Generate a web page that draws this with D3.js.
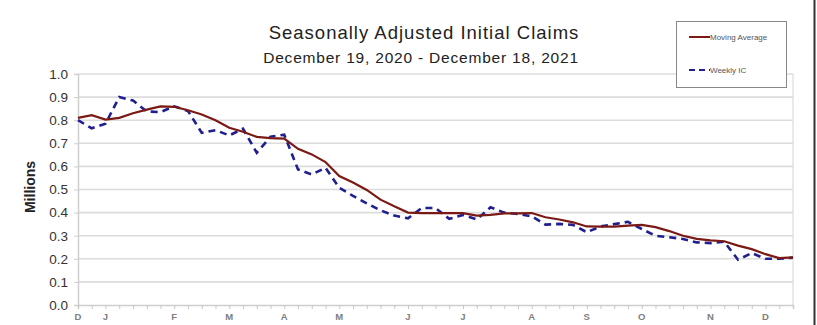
<!DOCTYPE html>
<html>
<head>
<meta charset="utf-8">
<script src="https://cdn.jsdelivr.net/npm/d3@7"></script>
<style>
  html, body { margin: 0; padding: 0; background: #fff; }
  svg { display: block; }
</style>
</head>
<body>
<svg id="chart" width="817" height="325"></svg>
<script>
// ---- data ----
const weekIndex = d3.range(53); // weekly points, Dec 19 2020 .. Dec 18 2021
const weeklyIC = [0.80, 0.765, 0.785, 0.90, 0.885, 0.838, 0.835, 0.86, 0.84, 0.745,
  0.757, 0.734, 0.763, 0.659, 0.728, 0.737, 0.587, 0.565, 0.594, 0.508,
  0.472, 0.44, 0.41, 0.387, 0.375, 0.42, 0.42, 0.373, 0.39, 0.37,
  0.423, 0.40, 0.394, 0.384, 0.348, 0.351, 0.347, 0.315, 0.34, 0.35,
  0.36, 0.329, 0.30, 0.293, 0.286, 0.271, 0.268, 0.274, 0.196, 0.225,
  0.20, 0.20, 0.205];
const movingAvg = [0.81, 0.822, 0.803, 0.81, 0.83, 0.846, 0.86, 0.858, 0.843, 0.825,
  0.80, 0.767, 0.75, 0.728, 0.722, 0.72, 0.676, 0.652, 0.619, 0.558,
  0.53, 0.498, 0.456, 0.427, 0.40, 0.398, 0.398, 0.398, 0.398, 0.387,
  0.39, 0.397, 0.397, 0.398, 0.38, 0.37, 0.358, 0.34, 0.339, 0.339,
  0.344, 0.347, 0.337, 0.32, 0.30, 0.286, 0.28, 0.276, 0.257, 0.242,
  0.22, 0.203, 0.206];
const monthLabels = ["D", "J", "F", "M", "A", "M", "J", "J", "A", "S", "O", "N", "D"];
const monthWeek = [0, 2, 7, 11, 15, 19, 24, 28, 33, 37, 41, 46, 50];
const yTicks = [0, 0.1, 0.2, 0.3, 0.4, 0.5, 0.6, 0.7, 0.8, 0.9, 1.0];
const titleText = "Seasonally Adjusted Initial Claims";
const subtitleText = "December 19, 2020 - December 18, 2021";
const yTitle = "Millions";
const legendNames = ["Moving Average", "Weekly IC"];

// ---- layout ----
const svg = d3.select("#chart");
const L = 78, R = 793, T = 74, B = 305;
const FONT = "Liberation Sans, Arial, sans-serif";

const x = d3.scaleLinear().domain([0, 52]).range([L, R]);
const y = d3.scaleLinear().domain([0, 1]).range([B, T]);

// outer right frame line
svg.append("line").attr("x1", 814.5).attr("x2", 814.5).attr("y1", 0).attr("y2", 325)
  .attr("stroke", "#333").attr("stroke-width", 2);

// gridlines
svg.append("g").selectAll("line").data(yTicks.filter(d => d > 0)).join("line")
  .attr("x1", L).attr("x2", R)
  .attr("y1", d => y(d)).attr("y2", d => y(d))
  .attr("stroke", "#dcdcdc").attr("stroke-width", 1.6);

// right border
svg.append("line").attr("x1", R).attr("x2", R).attr("y1", T).attr("y2", B)
  .attr("stroke", "#dcdcdc").attr("stroke-width", 1.2);

// y axis
const yAxis = d3.axisLeft(y).tickValues(yTicks).tickFormat(d3.format(".1f")).tickSize(4);
const gy = svg.append("g").attr("transform", `translate(${L},0)`).call(yAxis);
gy.select(".domain").attr("stroke", "#cfcfcf").attr("stroke-width", 1.5);
gy.selectAll(".tick line").attr("stroke", "#cfcfcf");
gy.selectAll("text").attr("font-family", FONT)
  .attr("font-size", 13.5).attr("fill", "#333").attr("x", -10);

// x axis
const xAxis = d3.axisBottom(x).tickValues(weekIndex).tickFormat("").tickSize(4);
const gx = svg.append("g").attr("transform", `translate(0,${B})`).call(xAxis);
gx.select(".domain").attr("stroke", "#cfcfcf").attr("stroke-width", 1.5);
gx.selectAll(".tick line").attr("stroke", "#c8c8c8");

svg.append("g").selectAll("text").data(monthWeek).join("text")
  .attr("x", d => x(d)).attr("y", 320)
  .attr("text-anchor", "middle")
  .attr("font-family", FONT)
  .attr("font-size", 9.5).attr("font-weight", "bold").attr("fill", "#808080")
  .text((d, i) => monthLabels[i]);

// lines
const line = d3.line().x((d, i) => x(weekIndex[i])).y(d => y(d));
svg.append("path").datum(weeklyIC).attr("d", line)
  .attr("fill", "none").attr("stroke", "#1f1f8f").attr("stroke-width", 2.6)
  .attr("stroke-dasharray", "7,5");
svg.append("path").datum(movingAvg).attr("d", line)
  .attr("fill", "none").attr("stroke", "#7b1a14").attr("stroke-width", 2.2);

// titles
svg.append("text").attr("x", 424).attr("y", 39).attr("text-anchor", "middle")
  .attr("font-family", FONT).attr("font-size", 18.5).attr("letter-spacing", 1)
  .attr("fill", "#222").text(titleText);
svg.append("text").attr("x", 421).attr("y", 63).attr("text-anchor", "middle")
  .attr("font-family", FONT).attr("font-size", 15.5).attr("letter-spacing", 0.8)
  .attr("fill", "#222").text(subtitleText);

// y title
svg.append("text").attr("transform", "translate(35,187) rotate(-90)")
  .attr("text-anchor", "middle")
  .attr("font-family", FONT).attr("font-size", 14)
  .attr("font-weight", "bold").attr("fill", "#222").text(yTitle);

// legend
const lg = svg.append("g");
lg.append("rect").attr("x", 676.5).attr("y", 21.5).attr("width", 110).attr("height", 66)
  .attr("fill", "#fff").attr("stroke", "#888").attr("stroke-width", 1);
const legendStyles = [
  { stroke: "#7b1a14", dash: null, w: 2 },
  { stroke: "#1f1f8f", dash: "6,4", w: 2 }
];
legendNames.forEach((name, i) => {
  const yy = 37 + i * 33;
  lg.append("line").attr("x1", 689).attr("x2", 710).attr("y1", yy).attr("y2", yy)
    .attr("stroke", legendStyles[i].stroke).attr("stroke-width", legendStyles[i].w)
    .attr("stroke-dasharray", legendStyles[i].dash);
  lg.append("text").attr("x", 710).attr("y", yy + 3)
    .attr("font-family", FONT).attr("font-size", 8)
    .attr("fill", "#555").text(name);
});
</script>
</body>
</html>
